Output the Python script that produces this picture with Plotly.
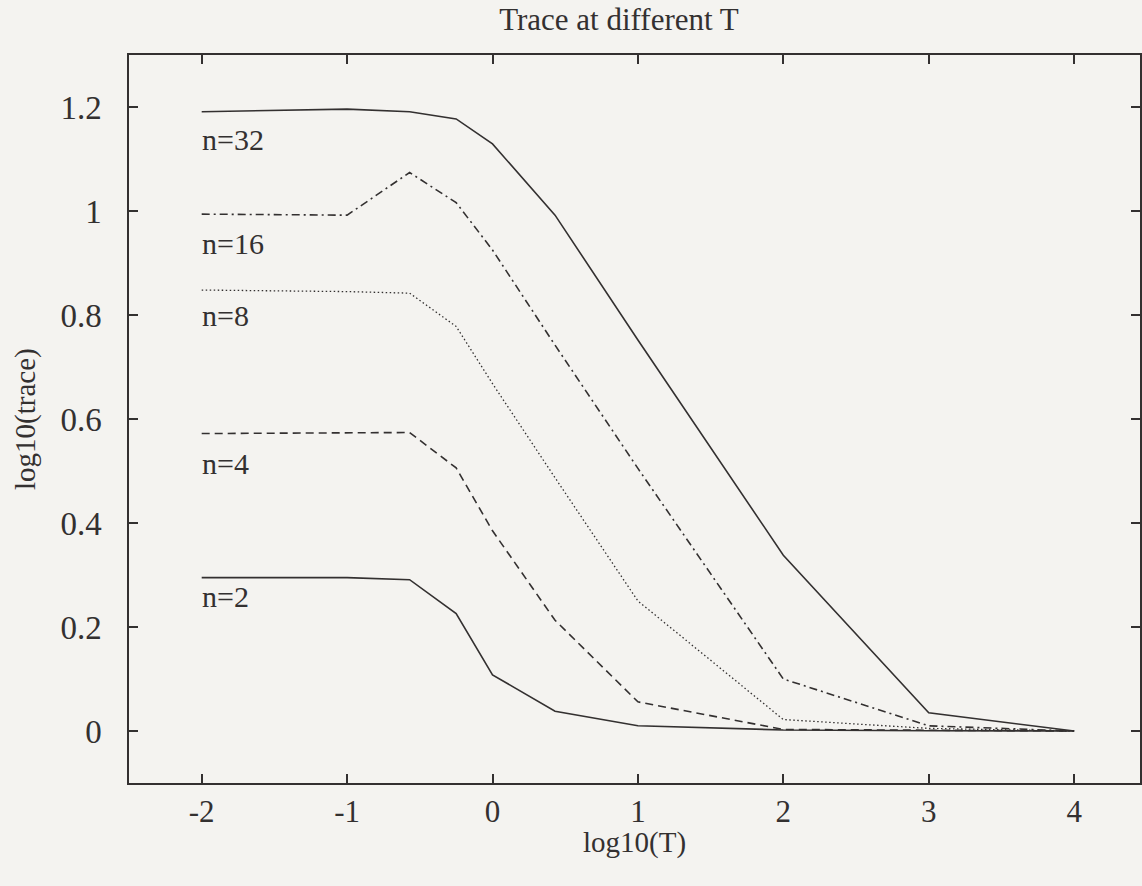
import plotly.graph_objects as go

# log10(T) sample positions
log_T = [-2, -1, -0.57, -0.25, 0, 0.43, 1, 2, 3, 4]

# log10(trace) for each n
trace_n32 = [1.191, 1.196, 1.191, 1.177, 1.129, 0.992, 0.752, 0.338, 0.035, 0.0]
trace_n16 = [0.994, 0.992, 1.074, 1.016, 0.925, 0.742, 0.505, 0.100, 0.010, 0.0]
trace_n8 = [0.848, 0.845, 0.842, 0.778, 0.668, 0.487, 0.250, 0.022, 0.005, 0.0]
trace_n4 = [0.572, 0.573, 0.574, 0.506, 0.385, 0.213, 0.056, 0.003, 0.001, 0.0]
trace_n2 = [0.295, 0.295, 0.291, 0.226, 0.108, 0.038, 0.010, 0.002, 0.0005, 0.0]

series_names = ["n=32", "n=16", "n=8", "n=4", "n=2"]
series_values = [trace_n32, trace_n16, trace_n8, trace_n4, trace_n2]
label_y = [1.138, 0.937, 0.800, 0.515, 0.258]

x_ticks = [-2, -1, 0, 1, 2, 3, 4]
x_tick_text = ["-2", "-1", "0", "1", "2", "3", "4"]
y_ticks = [0, 0.2, 0.4, 0.6, 0.8, 1, 1.2]
y_tick_text = ["0", "0.2", "0.4", "0.6", "0.8", "1", "1.2"]

INK = "#333030"
BG = "#f4f3f0"
FONT = "Liberation Serif, Times New Roman, serif"

dashes = ["solid", "8px,4px,2px,4px", "1.5px,2.5px", "8px,5px", "solid"]
widths = [1.6, 1.6, 1.3, 1.6, 1.6]

fig = go.Figure()
for name, vals, dash, w in zip(series_names, series_values, dashes, widths):
    fig.add_trace(go.Scatter(x=log_T, y=vals, mode="lines", name=name,
                             line=dict(color=INK, width=w, dash=dash),
                             showlegend=False))

for name, ly in zip(series_names, label_y):
    fig.add_annotation(x=-2, y=ly, text=name, showarrow=False, xanchor="left",
                       yanchor="middle", xshift=-2,
                       font=dict(family=FONT, size=30, color=INK))

# axis titles
fig.add_annotation(xref="paper", yref="paper", x=0.5, y=0, yshift=-59,
                   text="log10(T)", showarrow=False, xanchor="center", yanchor="middle",
                   font=dict(family=FONT, size=29, color=INK))
fig.add_annotation(xref="paper", yref="paper", x=0, y=0.5, xshift=-104,
                   text="log10(trace)", showarrow=False, textangle=-90,
                   xanchor="center", yanchor="middle",
                   font=dict(family=FONT, size=29, color=INK))

fig.update_layout(
    width=1142, height=886,
    margin=dict(l=129, r=0, t=55, b=103),
    paper_bgcolor=BG, plot_bgcolor=BG,
    title=dict(text="Trace at different T", x=0.542, xanchor="center",
               y=1 - 19 / 886, yanchor="middle",
               font=dict(family=FONT, size=31, color=INK)),
    font=dict(family=FONT, color=INK),
)
fig.update_xaxes(range=[-2.5, 4.453], tickvals=x_ticks, ticktext=x_tick_text,
                 ticks="inside", ticklen=9,
                 tickwidth=1.5, tickcolor=INK, showline=True, linecolor=INK, linewidth=1.5,
                 mirror="ticks", showgrid=False, zeroline=False,
                 tickfont=dict(family=FONT, size=31, color=INK), ticklabelstandoff=0)
fig.update_yaxes(range=[-0.1, 1.3], tickvals=y_ticks, ticktext=y_tick_text,
                 ticks="inside", ticklen=9,
                 tickwidth=1.5, tickcolor=INK, showline=True, linecolor=INK, linewidth=1.5,
                 mirror="ticks", showgrid=False, zeroline=False,
                 tickfont=dict(family=FONT, size=33, color=INK), ticklabelstandoff=19)

fig.write_html("out.html")
